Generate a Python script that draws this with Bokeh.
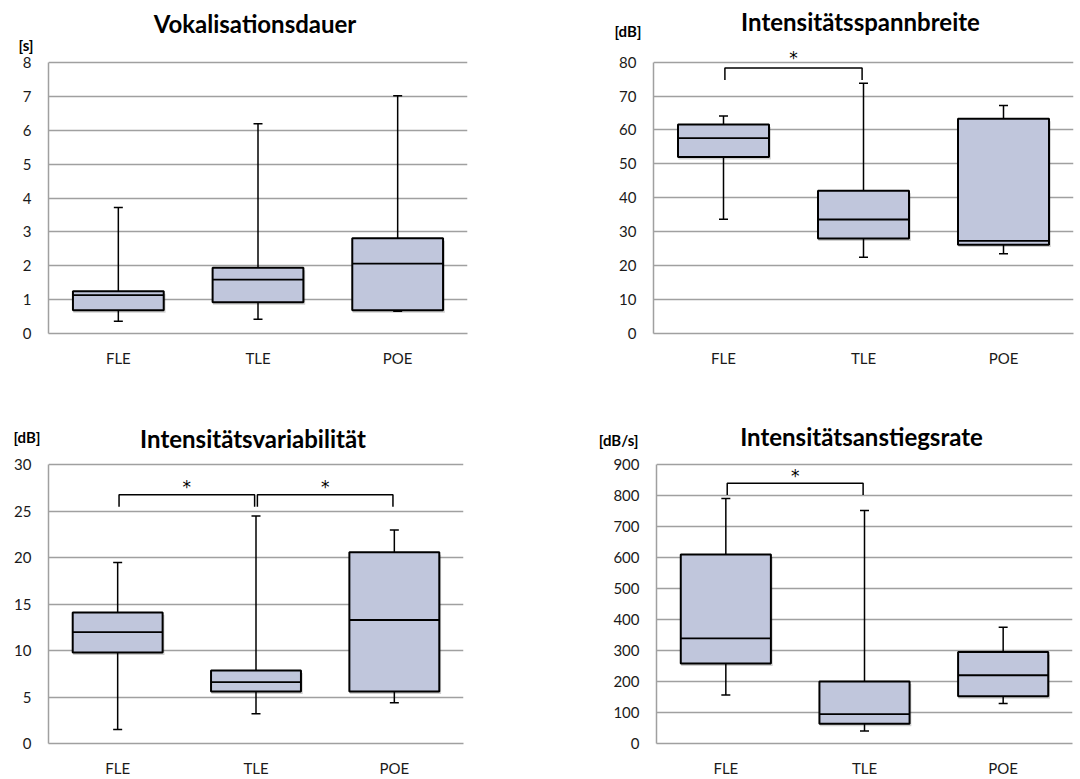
from bokeh.plotting import figure
from bokeh.layouts import column, row
from bokeh.models import Label, FixedTicker, ColumnDataSource, LinearAxis
from bokeh.embed import file_html
from bokeh.resources import INLINE

categories = ["FLE", "TLE", "POE"]

# Panel 1: Vokalisationsdauer [s]
dur_low = [0.36, 0.42, 0.66]
dur_q1 = [0.69, 0.92, 0.69]
dur_med = [1.13, 1.59, 2.06]
dur_q3 = [1.25, 1.94, 2.81]
dur_high = [3.72, 6.19, 7.02]

# Panel 2: Intensitätsspannbreite [dB]
span_low = [33.7, 22.5, 23.5]
span_q1 = [52.0, 28.0, 26.2]
span_med = [57.6, 33.6, 27.3]
span_q3 = [61.6, 42.1, 63.3]
span_high = [64.1, 73.8, 67.2]
span_sig = [("FLE", "TLE")]
span_sig_y = [78.3]
span_sig_leg = [74.7]
span_star_y = [81.2]

# Panel 3: Intensitätsvariabilität [dB]
var_low = [1.5, 3.2, 4.4]
var_q1 = [9.8, 5.6, 5.6]
var_med = [12.0, 6.6, 13.3]
var_q3 = [14.1, 7.85, 20.6]
var_high = [19.5, 24.5, 23.0]
var_sig = [("FLE", "TLE"), ("TLE", "POE")]
var_sig_y = [26.8, 26.8]
var_sig_leg = [25.5, 25.5]
var_star_y = [27.65, 27.65]

# Panel 4: Intensitätsanstiegsrate [dB/s]
rate_low = [156, 40, 129]
rate_q1 = [258, 64, 152]
rate_med = [339, 95, 220]
rate_q3 = [609, 200, 295]
rate_high = [790, 751, 375]
rate_sig = [("FLE", "TLE")]
rate_sig_y = [839]
rate_sig_leg = [801]
rate_star_y = [862]

FONT = "Lato"
GRID = "#A0A0A0"
FILL = "#C0C6DC"


def make_panel(title, unit, low, q1, med, q3, high, ymax, interval,
               width, height, bl, br, top_px, bb, title_dy, unit_dy, unit_standoff,
               sig=(), sig_y=(), sig_leg=(), star_y=()):
    data_px = height - bb - top_px
    px_per_unit = data_px / ymax
    yend = ymax + top_px / px_per_unit
    p = figure(x_range=categories, y_range=(0, yend), width=width, height=height,
               output_backend="svg", toolbar_location=None, title=None,
               min_border_left=bl, min_border_right=br,
               min_border_top=0, min_border_bottom=bb)
    ticks = list(range(0, ymax + 1, interval))
    p.outline_line_color = None
    p.xgrid.grid_line_color = None
    p.ygrid.ticker = FixedTicker(ticks=ticks)
    p.ygrid.grid_line_color = GRID
    p.ygrid.grid_line_width = 1.5
    p.yaxis.ticker = FixedTicker(ticks=ticks)
    p.yaxis.bounds = (0, ymax)
    p.yaxis.minor_tick_line_color = None
    p.yaxis.major_tick_line_color = None
    p.yaxis.major_tick_out = 0
    p.yaxis.major_label_standoff = 17
    p.yaxis.axis_line_color = GRID
    p.yaxis.axis_line_width = 1.5
    p.xaxis.major_tick_line_color = None
    p.xaxis.major_tick_out = 0
    p.xaxis.minor_tick_line_color = None
    p.xaxis.axis_line_color = GRID
    p.xaxis.axis_line_width = 1.5
    p.xaxis.major_label_standoff = 15
    for ax in (p.xaxis, p.yaxis):
        ax.major_label_text_font = FONT
        ax.major_label_text_font_size = "15px"
        ax.major_label_text_color = "#1a1a1a"

    # unit label as an extra left axis with one tick
    unit_y = round(ymax + unit_dy / px_per_unit, 3)
    uax = LinearAxis(ticker=FixedTicker(ticks=[unit_y]),
                     major_label_overrides={unit_y: unit},
                     axis_line_color=None, major_tick_line_color=None,
                     minor_tick_line_color=None, major_tick_out=0,
                     major_label_standoff=unit_standoff,
                     major_label_text_font=FONT, major_label_text_font_size="15px",
                     major_label_text_font_style="bold", major_label_text_color="black")
    p.add_layout(uax, "left")

    xs = [categories.index(c) + 0.5 for c in categories]
    sdy = 2.5 / px_per_unit
    src = ColumnDataSource(dict(x=categories, xs=[v + 0.008 for v in xs],
                                low=low, q1=q1, med=med, q3=q3, high=high,
                                sq1=[v - sdy for v in q1], sq3=[v - sdy for v in q3]))
    # soft shadow
    p.vbar(x="xs", bottom="sq1", top="sq3", width=0.66, source=src,
           fill_color="#000000", fill_alpha=0.18, line_color=None)
    p.segment(x0="x", y0="low", x1="x", y1="q1", source=src, line_color="black", line_width=1.5)
    p.segment(x0="x", y0="q3", x1="x", y1="high", source=src, line_color="black", line_width=1.5)
    p.dash(x="x", y="low", source=src, size=9, line_color="black", line_width=1.5)
    p.dash(x="x", y="high", source=src, size=9, line_color="black", line_width=1.5)
    p.vbar(x="x", bottom="q1", top="q3", width=0.65, source=src,
           fill_color=FILL, line_color="black", line_width=2)
    p.vbar(x="x", bottom="med", top="med", width=0.65, source=src,
           fill_color=None, line_color="black", line_width=1.8)

    for (a, b), yb, yl, ys in zip(sig, sig_y, sig_leg, star_y):
        xa = categories.index(a) + 0.5
        xb = categories.index(b) + 0.5
        p.line(x=[xa + 0.01, xa + 0.01, xb - 0.01, xb - 0.01], y=[yl, yb, yb, yl],
               line_color="black", line_width=1.5)
        p.add_layout(Label(x=(xa + xb) / 2, y=ys, text="*", text_font="DejaVu Sans",
                           text_font_size="17px", text_align="center",
                           text_baseline="middle", text_color="black"))

    p.add_layout(Label(x=len(categories) / 2, y=ymax, x_offset=-3, y_offset=title_dy,
                       text=title, text_font=FONT, text_font_style="bold",
                       text_font_size="24px", text_align="center",
                       text_baseline="middle", text_color="black"))
    return p


p1 = make_panel("Vokalisationsdauer", "[s]", dur_low, dur_q1, dur_med, dur_q3, dur_high,
                8, 1, 540, 400, 48, 73, 62, 67, 39, 17, -14)
p2 = make_panel("Intensitätsspannbreite", "[dB]", span_low, span_q1, span_med, span_q3, span_high,
                80, 10, 540, 400, 113, 7, 62, 65, 41, 31, -25,
                span_sig, span_sig_y, span_sig_leg, span_star_y)
p3 = make_panel("Intensitätsvariabilität", "[dB]", var_low, var_q1, var_med, var_q3, var_high,
                30, 5, 540, 379, 48, 77, 65, 33, 26, 28, -29,
                var_sig, var_sig_y, var_sig_leg, var_star_y)
p4 = make_panel("Intensitätsanstiegsrate", "[dB/s]", rate_low, rate_q1, rate_med, rate_q3, rate_high,
                900, 100, 540, 379, 116, 8, 64, 35, 28, 24, -28,
                rate_sig, rate_sig_y, rate_sig_leg, rate_star_y)

layout = column(row(p1, p2), row(p3, p4))
open("out.html", "w").write(file_html(layout, INLINE))
